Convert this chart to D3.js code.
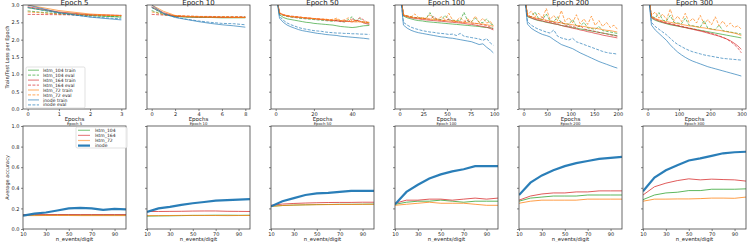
<!DOCTYPE html>
<html>
<head>
<meta charset="utf-8">
<script src="https://cdn.jsdelivr.net/npm/d3@7"></script>
<style>
  body { margin: 0; background: #fff; }
  text { font-family: "DejaVu Sans", sans-serif; fill: #222; }
</style>
</head>
<body>
<div id="chart"></div>
<script>
// les données
var titles = ["Epoch 5", "Epoch 10", "Epoch 50", "Epoch 100", "Epoch 200", "Epoch 300"];
var seriesNames = ["lstm_104 train", "lstm_104 eval", "lstm_164 train", "lstm_164 eval",
                   "lstm_72 train", "lstm_72 eval", "inode train", "inode eval"];
var models = ["lstm_104", "lstm_164", "lstm_72", "inode"];
var modelColors = ["#2ca02c", "#d62728", "#ff7f0e", "#1f77b4"];
var xMax = [3, 8, 49, 99, 199, 299];
var xTicksTop = [[0, 1, 2, 3], [0, 2, 4, 6, 8], [0, 20, 40], [0, 25, 50, 75, 100], [0, 50, 100, 150, 200], [0, 100, 200, 300]];
var nEvents = [10, 20, 30, 40, 50, 60, 70, 80, 90, 100];
var nEventsTicks = [10, 30, 50, 70, 90];

var epochs5 = [0, 1, 2, 3];
var epochs10 = [0, 1, 2, 3, 4, 5, 6, 7, 8];
var epochs50 = [0, 2, 4, 6, 8, 10, 12, 14, 16, 18, 20, 22, 24, 26, 28, 30, 32, 34, 36, 38, 40, 42, 44, 46, 49];
var epochs100 = [0, 4, 8, 12, 16, 20, 24, 28, 32, 36, 40, 44, 48, 52, 56, 60, 64, 68, 72, 76, 80, 84, 88, 92, 96, 99];
var epochs200 = [0, 8, 16, 24, 32, 40, 48, 56, 64, 72, 80, 88, 96, 104, 112, 120, 128, 136, 144, 152, 160, 168, 176, 184, 192, 199];
var epochs300 = [0, 12, 24, 36, 48, 60, 72, 84, 96, 108, 120, 132, 144, 156, 168, 180, 192, 204, 216, 228, 240, 252, 264, 276, 288, 299];

// pertes, ordre = seriesNames
var loss5 = [
  [2.92, 2.78, 2.70, 2.65],
  [2.83, 2.74, 2.69, 2.66],
  [2.95, 2.80, 2.72, 2.70],
  [2.73, 2.72, 2.71, 2.70],
  [3.00, 2.84, 2.74, 2.69],
  [2.80, 2.74, 2.71, 2.69],
  [3.00, 2.78, 2.65, 2.57],
  [2.93, 2.76, 2.66, 2.60]
];
var loss10 = [
  [2.93, 2.75, 2.67, 2.65, 2.64, 2.64, 2.63, 2.63, 2.63],
  [2.84, 2.72, 2.67, 2.66, 2.66, 2.65, 2.65, 2.65, 2.65],
  [2.95, 2.78, 2.68, 2.66, 2.65, 2.65, 2.64, 2.64, 2.64],
  [2.73, 2.71, 2.69, 2.68, 2.67, 2.67, 2.66, 2.66, 2.66],
  [3.00, 2.82, 2.70, 2.67, 2.66, 2.65, 2.65, 2.64, 2.64],
  [2.80, 2.73, 2.69, 2.68, 2.67, 2.66, 2.66, 2.66, 2.65],
  [3.00, 2.76, 2.64, 2.58, 2.52, 2.47, 2.43, 2.40, 2.36],
  [2.93, 2.74, 2.65, 2.59, 2.54, 2.50, 2.47, 2.46, 2.43]
];
var loss50 = [
  [3.4, 2.72, 2.64, 2.60, 2.58, 2.56, 2.54, 2.52, 2.50, 2.49, 2.47, 2.46, 2.45, 2.44, 2.43, 2.42, 2.40, 2.38, 2.37, 2.36, 2.35, 2.36, 2.38, 2.40, 2.41],
  [3.3, 2.75, 2.70, 2.67, 2.65, 2.64, 2.62, 2.61, 2.60, 2.59, 2.58, 2.57, 2.56, 2.55, 2.54, 2.53, 2.56, 2.52, 2.51, 2.58, 2.66, 2.52, 2.62, 2.50, 2.47],
  [3.4, 2.76, 2.71, 2.68, 2.66, 2.65, 2.64, 2.63, 2.62, 2.61, 2.60, 2.59, 2.58, 2.57, 2.56, 2.55, 2.54, 2.53, 2.52, 2.53, 2.51, 2.56, 2.54, 2.48, 2.44],
  [3.3, 2.77, 2.72, 2.70, 2.68, 2.67, 2.66, 2.64, 2.63, 2.62, 2.61, 2.60, 2.59, 2.58, 2.57, 2.56, 2.55, 2.54, 2.56, 2.52, 2.60, 2.53, 2.64, 2.57, 2.46],
  [3.4, 2.78, 2.72, 2.69, 2.67, 2.66, 2.65, 2.64, 2.63, 2.62, 2.61, 2.60, 2.59, 2.58, 2.57, 2.56, 2.58, 2.55, 2.54, 2.53, 2.52, 2.51, 2.52, 2.50, 2.49],
  [3.3, 2.76, 2.71, 2.69, 2.67, 2.66, 2.65, 2.64, 2.63, 2.62, 2.61, 2.60, 2.59, 2.60, 2.57, 2.59, 2.62, 2.55, 2.57, 2.63, 2.54, 2.56, 2.51, 2.53, 2.50],
  [3.4, 2.62, 2.50, 2.42, 2.37, 2.33, 2.29, 2.26, 2.24, 2.22, 2.20, 2.18, 2.17, 2.15, 2.14, 2.13, 2.12, 2.10, 2.09, 2.08, 2.07, 2.06, 2.05, 2.04, 2.02],
  [3.4, 2.68, 2.56, 2.48, 2.43, 2.39, 2.35, 2.32, 2.30, 2.28, 2.26, 2.25, 2.24, 2.22, 2.21, 2.20, 2.19, 2.19, 2.18, 2.18, 2.17, 2.17, 2.16, 2.16, 2.15]
];
var loss100 = [
  [3.5, 2.68, 2.63, 2.60, 2.57, 2.55, 2.54, 2.52, 2.51, 2.50, 2.49, 2.48, 2.47, 2.46, 2.45, 2.44, 2.43, 2.42, 2.41, 2.40, 2.39, 2.38, 2.36, 2.35, 2.34, 2.33],
  [3.4, 2.72, 2.68, 2.66, 2.64, 2.63, 2.62, 2.61, 2.78, 2.60, 2.59, 2.58, 2.70, 2.57, 2.56, 2.55, 2.54, 2.79, 2.53, 2.52, 2.62, 2.50, 2.49, 2.60, 2.46, 2.42],
  [3.5, 2.70, 2.66, 2.63, 2.61, 2.60, 2.58, 2.57, 2.56, 2.55, 2.54, 2.53, 2.52, 2.51, 2.50, 2.49, 2.48, 2.47, 2.45, 2.44, 2.42, 2.40, 2.38, 2.36, 2.32, 2.28],
  [3.4, 2.71, 2.68, 2.65, 2.64, 2.62, 2.61, 2.60, 2.59, 2.67, 2.57, 2.56, 2.55, 2.60, 2.53, 2.52, 2.51, 2.50, 2.56, 2.48, 2.47, 2.45, 2.43, 2.41, 2.36, 2.31],
  [3.5, 2.71, 2.67, 2.65, 2.63, 2.62, 2.61, 2.60, 2.59, 2.58, 2.57, 2.56, 2.55, 2.54, 2.53, 2.52, 2.51, 2.50, 2.49, 2.48, 2.47, 2.46, 2.45, 2.43, 2.41, 2.38],
  [3.4, 2.72, 2.69, 2.66, 2.74, 2.64, 2.63, 2.62, 2.72, 2.60, 2.59, 2.66, 2.58, 2.76, 2.56, 2.55, 2.64, 2.53, 2.60, 2.52, 2.68, 2.50, 2.62, 2.48, 2.52, 2.40],
  [3.5, 2.42, 2.33, 2.27, 2.23, 2.20, 2.18, 2.16, 2.14, 2.12, 2.10, 2.08, 2.07, 2.05, 2.04, 2.02, 2.00, 1.98, 1.96, 1.94, 1.90, 1.86, 1.88, 1.78, 1.70, 1.62],
  [3.5, 2.50, 2.42, 2.36, 2.32, 2.29, 2.26, 2.24, 2.22, 2.21, 2.19, 2.18, 2.17, 2.15, 2.16, 2.12, 2.18, 2.10, 2.08, 2.06, 2.04, 2.02, 1.98, 2.03, 1.90, 1.84]
];
var loss200 = [
  [3.5, 2.66, 2.62, 2.58, 2.55, 2.53, 2.50, 2.48, 2.46, 2.44, 2.41, 2.39, 2.37, 2.35, 2.33, 2.31, 2.29, 2.27, 2.25, 2.23, 2.21, 2.19, 2.17, 2.15, 2.13, 2.11],
  [3.4, 2.70, 2.66, 2.80, 2.60, 2.58, 2.74, 2.54, 2.52, 2.66, 2.48, 2.46, 2.44, 2.58, 2.40, 2.38, 2.50, 2.34, 2.32, 2.30, 2.38, 2.26, 2.24, 2.22, 2.20, 2.18],
  [3.5, 2.68, 2.63, 2.59, 2.56, 2.54, 2.51, 2.49, 2.46, 2.44, 2.41, 2.38, 2.36, 2.33, 2.31, 2.28, 2.26, 2.23, 2.21, 2.18, 2.16, 2.13, 2.11, 2.09, 2.07, 2.05],
  [3.4, 2.70, 2.66, 2.62, 2.59, 2.64, 2.54, 2.52, 2.50, 2.47, 2.52, 2.42, 2.40, 2.38, 2.35, 2.41, 2.31, 2.28, 2.26, 2.24, 2.21, 2.19, 2.17, 2.14, 2.12, 2.10],
  [3.5, 2.70, 2.66, 2.63, 2.60, 2.58, 2.56, 2.54, 2.52, 2.50, 2.48, 2.46, 2.45, 2.43, 2.41, 2.39, 2.38, 2.36, 2.34, 2.33, 2.31, 2.29, 2.27, 2.26, 2.24, 2.22],
  [3.4, 2.72, 2.82, 2.66, 2.76, 2.62, 2.90, 2.58, 2.70, 2.55, 2.84, 2.52, 2.64, 2.49, 2.72, 2.46, 2.60, 2.44, 2.68, 2.41, 2.55, 2.38, 2.50, 2.35, 2.42, 2.30],
  [3.5, 2.45, 2.33, 2.26, 2.20, 2.15, 2.12, 2.08, 2.00, 1.93, 1.86, 1.82, 1.78, 1.74, 1.68, 1.62, 1.57, 1.52, 1.47, 1.42, 1.37, 1.33, 1.29, 1.25, 1.21, 1.18],
  [3.5, 2.52, 2.42, 2.35, 2.30, 2.26, 2.22, 2.19, 2.28, 2.10, 2.05, 2.02, 1.99, 2.04, 1.94, 1.90, 1.86, 1.82, 1.78, 1.74, 1.70, 1.66, 1.63, 1.61, 1.60, 1.58]
];
var loss300 = [
  [3.5, 2.62, 2.56, 2.52, 2.49, 2.46, 2.43, 2.41, 2.39, 2.37, 2.35, 2.33, 2.31, 2.29, 2.27, 2.25, 2.23, 2.21, 2.19, 2.17, 2.15, 2.13, 2.11, 2.09, 2.07, 2.05],
  [3.4, 2.68, 2.62, 2.78, 2.56, 2.54, 2.70, 2.50, 2.48, 2.46, 2.62, 2.42, 2.40, 2.38, 2.36, 2.55, 2.33, 2.31, 2.29, 2.42, 2.26, 2.24, 2.22, 2.20, 2.18, 2.16],
  [3.5, 2.64, 2.58, 2.54, 2.50, 2.47, 2.45, 2.42, 2.40, 2.37, 2.35, 2.32, 2.30, 2.27, 2.25, 2.22, 2.19, 2.16, 2.13, 2.10, 2.06, 2.02, 1.97, 1.90, 1.82, 1.72],
  [3.4, 2.66, 2.60, 2.56, 2.52, 2.49, 2.46, 2.44, 2.41, 2.39, 2.36, 2.34, 2.31, 2.29, 2.26, 2.24, 2.21, 2.18, 2.15, 2.11, 2.07, 2.02, 1.95, 1.86, 1.76, 1.62],
  [3.5, 2.66, 2.61, 2.57, 2.54, 2.52, 2.50, 2.48, 2.46, 2.44, 2.42, 2.40, 2.39, 2.37, 2.35, 2.34, 2.32, 2.30, 2.28, 2.27, 2.25, 2.23, 2.21, 2.19, 2.16, 2.12],
  [3.4, 2.70, 2.80, 2.62, 2.74, 2.58, 2.88, 2.55, 2.68, 2.52, 2.76, 2.50, 2.62, 2.48, 2.70, 2.45, 2.58, 2.43, 2.66, 2.40, 2.54, 2.38, 2.48, 2.35, 2.40, 2.30],
  [3.5, 2.42, 2.28, 2.18, 2.08, 1.98, 1.85, 1.74, 1.64, 1.56, 1.49, 1.43, 1.38, 1.34, 1.30, 1.26, 1.22, 1.19, 1.16, 1.13, 1.10, 1.07, 1.04, 1.01, 0.98, 0.95],
  [3.5, 2.50, 2.38, 2.30, 2.22, 2.14, 2.04, 1.94, 1.86, 1.80, 1.74, 1.69, 1.65, 1.62, 1.59, 1.56, 1.54, 1.52, 1.50, 1.48, 1.46, 1.45, 1.44, 1.43, 1.42, 1.41]
];

// précision moyenne, ordre = models
var acc5 = [
  [0.135, 0.135, 0.135, 0.136, 0.136, 0.135, 0.135, 0.135, 0.135, 0.135],
  [0.140, 0.140, 0.140, 0.140, 0.140, 0.140, 0.140, 0.140, 0.140, 0.140],
  [0.130, 0.130, 0.131, 0.131, 0.131, 0.130, 0.130, 0.130, 0.130, 0.130],
  [0.130, 0.150, 0.160, 0.180, 0.200, 0.205, 0.200, 0.185, 0.195, 0.190]
];
var acc10 = [
  [0.125, 0.127, 0.128, 0.130, 0.132, 0.133, 0.134, 0.134, 0.133, 0.134],
  [0.170, 0.170, 0.171, 0.172, 0.174, 0.175, 0.175, 0.172, 0.171, 0.170],
  [0.130, 0.130, 0.131, 0.132, 0.132, 0.131, 0.131, 0.130, 0.131, 0.131],
  [0.165, 0.200, 0.215, 0.235, 0.250, 0.262, 0.275, 0.280, 0.285, 0.290]
];
var acc50 = [
  [0.220, 0.228, 0.232, 0.235, 0.237, 0.238, 0.240, 0.240, 0.241, 0.242],
  [0.230, 0.242, 0.248, 0.252, 0.255, 0.257, 0.258, 0.258, 0.260, 0.260],
  [0.220, 0.228, 0.232, 0.234, 0.236, 0.237, 0.238, 0.238, 0.239, 0.240],
  [0.220, 0.270, 0.300, 0.330, 0.345, 0.350, 0.360, 0.370, 0.370, 0.370]
];
var acc100 = [
  [0.240, 0.260, 0.270, 0.270, 0.280, 0.270, 0.260, 0.270, 0.270, 0.270],
  [0.250, 0.280, 0.280, 0.290, 0.290, 0.280, 0.290, 0.300, 0.290, 0.300],
  [0.230, 0.240, 0.250, 0.260, 0.250, 0.250, 0.250, 0.240, 0.230, 0.230],
  [0.240, 0.360, 0.430, 0.490, 0.530, 0.560, 0.580, 0.610, 0.610, 0.610]
];
var acc200 = [
  [0.270, 0.300, 0.310, 0.320, 0.320, 0.320, 0.330, 0.330, 0.330, 0.330],
  [0.280, 0.320, 0.340, 0.350, 0.350, 0.360, 0.360, 0.370, 0.370, 0.370],
  [0.250, 0.270, 0.280, 0.280, 0.280, 0.280, 0.290, 0.290, 0.290, 0.290],
  [0.330, 0.450, 0.520, 0.570, 0.610, 0.640, 0.660, 0.680, 0.690, 0.700]
];
var acc300 = [
  [0.285, 0.330, 0.350, 0.357, 0.373, 0.373, 0.386, 0.386, 0.386, 0.390],
  [0.330, 0.410, 0.445, 0.470, 0.487, 0.477, 0.484, 0.480, 0.477, 0.465],
  [0.270, 0.290, 0.290, 0.292, 0.292, 0.295, 0.300, 0.300, 0.298, 0.310],
  [0.367, 0.500, 0.570, 0.620, 0.665, 0.685, 0.710, 0.735, 0.745, 0.750]
];

var epochsAll = [epochs5, epochs10, epochs50, epochs100, epochs200, epochs300];
var lossAll = [loss5, loss10, loss50, loss100, loss200, loss300];
var accAll = [acc5, acc10, acc50, acc100, acc200, acc300];

var width = 747, height = 242;
var axW = 103;
var topY0 = 5, topY1 = 109, botY0 = 126, botY1 = 229;
function axLeft(i) { return 23 + i * 124; }

var svg = d3.select("#chart").append("svg")
    .attr("width", width).attr("height", height);

var defs = svg.append("defs");

var yLoss = d3.scaleLinear().domain([0, 3]).range([topY1, topY0]);
var yAcc = d3.scaleLinear().domain([0, 1]).range([botY1, botY0]);

function styleAxis(g) {
  g.selectAll(".domain").remove();
  g.selectAll(".tick line").attr("stroke", "#333").attr("stroke-width", 0.6);
  g.selectAll(".tick text").style("font-size", "5px").attr("fill", "#222");
}

function frame(x0, y0, h) {
  svg.append("rect").attr("x", x0).attr("y", y0).attr("width", axW).attr("height", h)
    .attr("fill", "none").attr("stroke", "#444").attr("stroke-width", 0.8);
}

titles.forEach(function (t, i) {
  var x0 = axLeft(i);

  // ---- rangée du haut : pertes
  var pad = xMax[i] * 0.05;
  var x = d3.scaleLinear().domain([-pad, xMax[i] + pad]).range([x0, x0 + axW]);

  defs.append("clipPath").attr("id", "ct" + i).append("rect")
    .attr("x", x0).attr("y", topY0).attr("width", axW).attr("height", topY1 - topY0);

  var gl = svg.append("g").attr("clip-path", "url(#ct" + i + ")");
  lossAll[i].forEach(function (vals, s) {
    var line = d3.line()
      .x(function (d, k) { return x(epochsAll[i][k]); })
      .y(function (d) { return yLoss(d); });
    gl.append("path").datum(vals)
      .attr("d", line)
      .attr("fill", "none")
      .attr("stroke", modelColors[Math.floor(s / 2)])
      .attr("stroke-width", 0.9)
      .attr("stroke-opacity", 0.75)
      .attr("stroke-dasharray", s % 2 === 1 ? "3,1.4" : null);
  });

  var xa = svg.append("g").attr("transform", "translate(0," + topY1 + ")")
    .call(d3.axisBottom(x).tickValues(xTicksTop[i]).tickSize(2).tickPadding(1).tickFormat(d3.format("d")));
  styleAxis(xa);
  var ya = svg.append("g").attr("transform", "translate(" + x0 + ",0)")
    .call(d3.axisLeft(yLoss).tickValues(d3.range(0, 3.01, 0.5)).tickSize(2).tickPadding(1.5)
      .tickFormat(i === 0 ? d3.format(".1f") : ""));
  styleAxis(ya);
  frame(x0, topY0, topY1 - topY0);

  svg.append("text").attr("x", x0 + axW / 2).attr("y", 121)
    .attr("text-anchor", "middle").style("font-size", "5.5px").text("Epochs");
  svg.append("text").attr("x", x0 + axW / 2).attr("y", 4.6)
    .attr("text-anchor", "middle").style("font-size", "7px").text(t);

  // ---- rangée du bas : précision
  var xb = d3.scaleLinear().domain([10, 100]).range([x0, x0 + axW]);
  defs.append("clipPath").attr("id", "cb" + i).append("rect")
    .attr("x", x0).attr("y", botY0).attr("width", axW).attr("height", botY1 - botY0);
  var gb = svg.append("g").attr("clip-path", "url(#cb" + i + ")");
  accAll[i].forEach(function (vals, m) {
    var line = d3.line()
      .x(function (d, k) { return xb(nEvents[k]); })
      .y(function (d) { return yAcc(d); });
    gb.append("path").datum(vals)
      .attr("d", line)
      .attr("fill", "none")
      .attr("stroke", modelColors[m])
      .attr("stroke-width", m === 3 ? 2.2 : 0.9)
      .attr("stroke-opacity", m === 3 ? 0.95 : 0.85);
  });

  var xba = svg.append("g").attr("transform", "translate(0," + botY1 + ")")
    .call(d3.axisBottom(xb).tickValues(nEventsTicks).tickSize(2).tickPadding(1));
  styleAxis(xba);
  var yba = svg.append("g").attr("transform", "translate(" + x0 + ",0)")
    .call(d3.axisLeft(yAcc).tickValues([0, 0.2, 0.4, 0.6, 0.8, 1.0]).tickSize(2).tickPadding(1.5)
      .tickFormat(i === 0 ? d3.format(".1f") : ""));
  styleAxis(yba);
  frame(x0, botY0, botY1 - botY0);

  svg.append("text").attr("x", x0 + axW / 2).attr("y", 241.2)
    .attr("text-anchor", "middle").style("font-size", "5.3px").text("n_events/digit");
  svg.append("text").attr("x", x0 + axW / 2).attr("y", 125.3)
    .attr("text-anchor", "middle").style("font-size", "3.8px").attr("fill", "#777").text(t);
});

// titres des axes y
svg.append("text").attr("transform", "translate(9," + (topY0 + topY1) / 2 + ") rotate(-90)")
  .attr("text-anchor", "middle").style("font-size", "5px").text("Train/Test Loss per Epoch");
svg.append("text").attr("transform", "translate(9," + (botY0 + botY1) / 2 + ") rotate(-90)")
  .attr("text-anchor", "middle").style("font-size", "5px").text("Average accuracy");

// légende du haut
var lg = svg.append("g");
lg.append("rect").attr("x", 26).attr("y", 67).attr("width", 59).attr("height", 41).attr("rx", 1.5)
  .attr("fill", "#fff").attr("fill-opacity", 0.85).attr("stroke", "#ccc").attr("stroke-width", 0.6);
seriesNames.forEach(function (n, s) {
  var yy = 70.2 + s * 4.95;
  lg.append("line").attr("x1", 28).attr("x2", 39).attr("y1", yy).attr("y2", yy)
    .attr("stroke", modelColors[Math.floor(s / 2)]).attr("stroke-width", 1.2).attr("stroke-opacity", 0.55)
    .attr("stroke-dasharray", s % 2 === 1 ? "3,1.4" : null);
  lg.append("text").attr("x", 43).attr("y", yy + 1.6).style("font-size", "4.5px").text(n);
});

// légende du bas
var lb = svg.append("g");
lb.append("rect").attr("x", 76).attr("y", 127).attr("width", 51).attr("height", 21).attr("rx", 1.5)
  .attr("fill", "#fff").attr("fill-opacity", 0.85).attr("stroke", "#ccc").attr("stroke-width", 0.6);
models.forEach(function (n, m) {
  var yy = 130.3 + m * 5.1;
  lb.append("line").attr("x1", 78).attr("x2", 90).attr("y1", yy).attr("y2", yy)
    .attr("stroke", modelColors[m]).attr("stroke-width", m === 3 ? 2.2 : 1.2)
    .attr("stroke-opacity", m === 3 ? 0.95 : 0.55);
  lb.append("text").attr("x", 95).attr("y", yy + 1.6).style("font-size", "4.5px").text(n);
});
</script>
</body>
</html>
